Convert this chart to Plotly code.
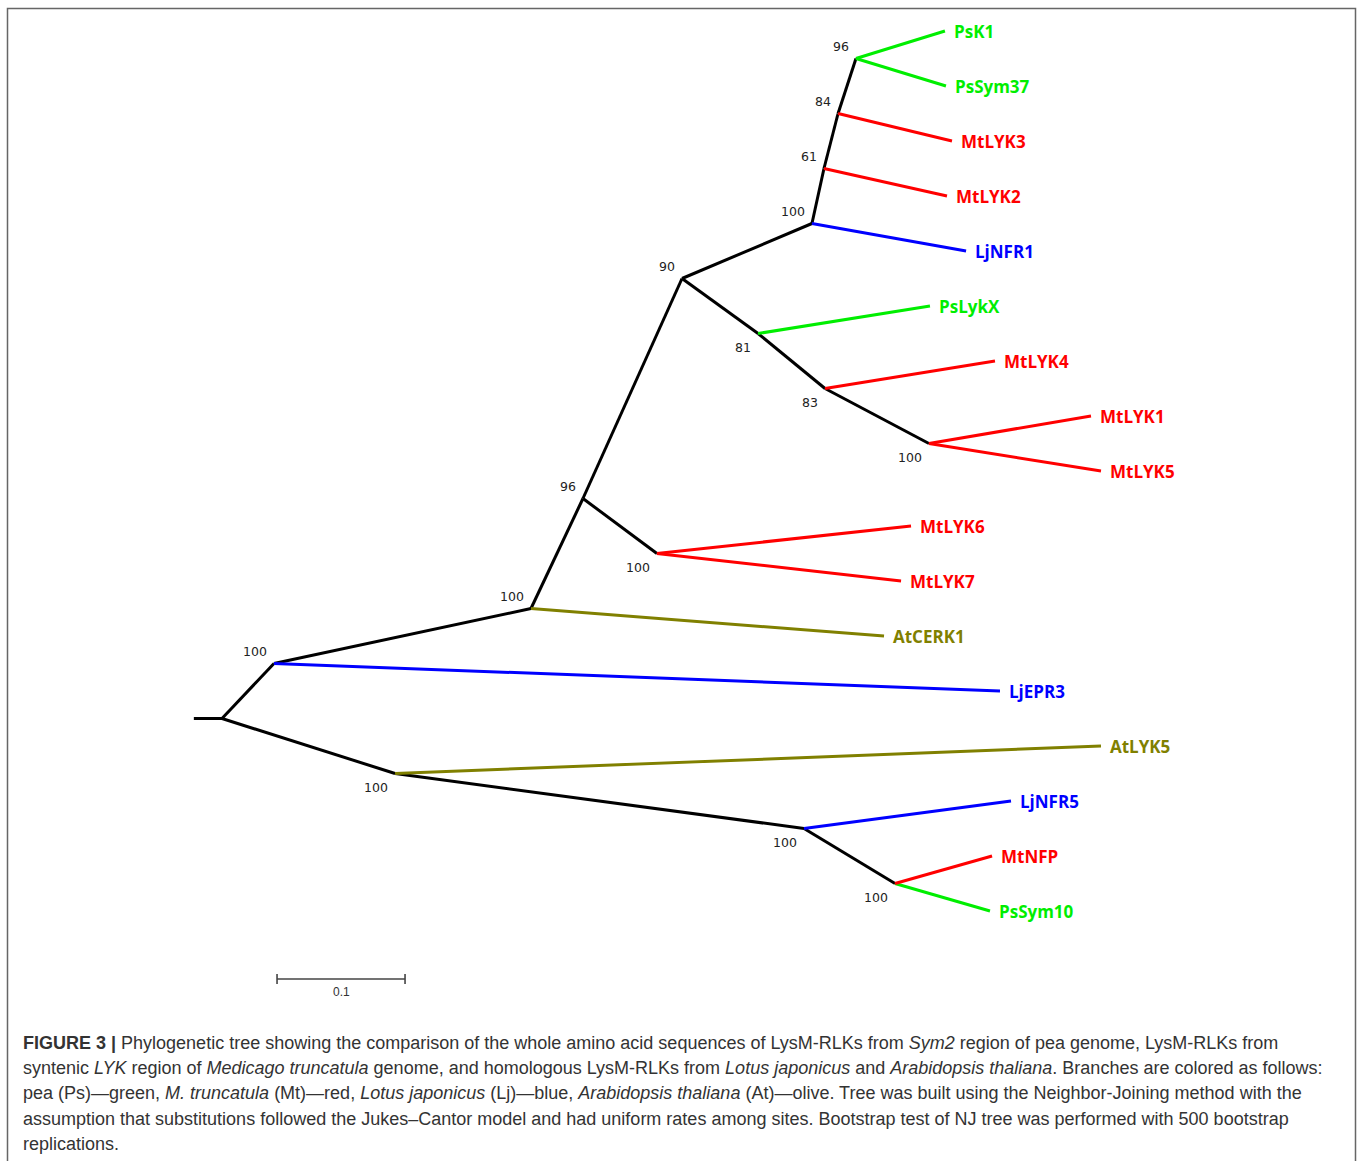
import plotly.graph_objects as go

# ---- Tree data: branch depth (substitutions/site from root) and row position ----
leaf_names = ["PsK1", "PsSym37", "MtLYK3", "MtLYK2", "LjNFR1", "PsLykX", "MtLYK4",
              "MtLYK1", "MtLYK5", "MtLYK6", "MtLYK7", "AtCERK1", "LjEPR3", "AtLYK5",
              "LjNFR5", "MtNFP", "PsSym10"]
leaf_depth = [0.5648, 0.5656, 0.5703, 0.5664, 0.5813, 0.5531, 0.6039,
              0.6789, 0.6867, 0.5383, 0.5305, 0.5172, 0.6078, 0.6867,
              0.6164, 0.6016, 0.6000]
leaf_parent = ["J", "J", "I", "H", "G", "K", "L", "M", "M", "E", "E", "C", "A", "B",
               "N", "O", "O"]

node_names = ["R", "A", "B", "C", "D", "E", "F", "G", "H", "I", "J", "K", "L", "M", "N", "O"]
node_depth = [0.0, 0.0406, 0.1352, 0.2414, 0.2820, 0.3398, 0.3594, 0.4609,
              0.4703, 0.4813, 0.4953, 0.4188, 0.4711, 0.5523, 0.4547, 0.5258]
node_row = [12.5, 11.5, 13.5, 10.5, 8.5, 9.5, 4.5, 3.5, 2.5, 1.5, 0.5, 5.5, 6.5, 7.5, 14.5, 15.5]
node_parent = [None, "R", "R", "A", "C", "D", "D", "F", "G", "H", "I", "F", "K", "L", "B", "N"]
bootstrap = [None, 100, 100, 100, 96, 100, 90, 100, 61, 84, 96, 81, 83, 100, 100, 100]
bootstrap_side = [None, "up", "down", "up", "up", "down", "up", "up", "up", "up", "up",
                  "down", "down", "down", "down", "down"]

root_stub = 0.022
scale_length = 0.1
scale_label = "0.1"

species_colors = {"Ps": "#00EE00", "Mt": "#FF0000", "Lj": "#0000FF", "At": "#808000"}

caption_lines = [
    "<b>FIGURE 3 |</b> Phylogenetic tree showing the comparison of the whole amino acid sequences of LysM-RLKs from <i>Sym2</i> region of pea genome, LysM-RLKs from",
    "syntenic <i>LYK</i> region of <i>Medicago truncatula</i> genome, and homologous LysM-RLKs from <i>Lotus japonicus</i> and <i>Arabidopsis thaliana</i>. Branches are colored as follows:",
    "pea (Ps)\u2014green, <i>M. truncatula</i> (Mt)\u2014red, <i>Lotus japonicus</i> (Lj)\u2014blue, <i>Arabidopsis thaliana</i> (At)\u2014olive. Tree was built using the Neighbor-Joining method with the",
    "assumption that substitutions followed the Jukes\u2013Cantor model and had uniform rates among sites. Bootstrap test of NJ tree was performed with 500 bootstrap",
    "replications.",
]

# ---- Figure geometry ----
W, H = 1358, 1161
PX_PER_UNIT = 1280.0      # horizontal pixels per substitution/site
PX_PER_ROW = 55.0         # vertical pixels per leaf row
ROOT_PX, ROW0_PX = 222.0, 31.0

pos = {n: (d, r) for n, d, r in zip(node_names, node_depth, node_row)}
for i, (n, d) in enumerate(zip(leaf_names, leaf_depth)):
    pos[n] = (d, float(i))

fig = go.Figure()

# internal (black) branches
bx, by = [-root_stub, 0.0, None], [pos["R"][1], pos["R"][1], None]
for n, p in zip(node_names, node_parent):
    if p is None:
        continue
    bx += [pos[p][0], pos[n][0], None]
    by += [pos[p][1], pos[n][1], None]
fig.add_trace(go.Scatter(x=bx, y=by, mode="lines", line=dict(color="black", width=3),
                         hoverinfo="skip", showlegend=False))

# terminal branches coloured by species
for code, col in species_colors.items():
    tx, ty = [], []
    for n, p in zip(leaf_names, leaf_parent):
        if n.startswith(code):
            tx += [pos[p][0], pos[n][0], None]
            ty += [pos[p][1], pos[n][1], None]
    fig.add_trace(go.Scatter(x=tx, y=ty, mode="lines", line=dict(color=col, width=3),
                             hoverinfo="skip", showlegend=False))

annotations = []
for n in leaf_names:
    annotations.append(dict(x=pos[n][0], y=pos[n][1], text=n, showarrow=False,
                            xanchor="left", yanchor="middle", xshift=7,
                            font=dict(family="Open Sans", size=17, color=species_colors[n[:2]],
                                      weight=700)))
for n, b, s in zip(node_names, bootstrap, bootstrap_side):
    if b is None:
        continue
    annotations.append(dict(x=pos[n][0], y=pos[n][1], text=str(b), showarrow=False,
                            xanchor="right", yanchor="middle", xshift=-5,
                            yshift=12 if s == "up" else -14,
                            font=dict(family="DejaVu Sans", size=12.5, color="#222222")))

# scale bar
sb_x0 = 0.043
sb_row = 17.236
tick = 0.09
fig.add_trace(go.Scatter(
    x=[sb_x0, sb_x0 + scale_length, None, sb_x0, sb_x0, None, sb_x0 + scale_length, sb_x0 + scale_length],
    y=[sb_row, sb_row, None, sb_row - tick, sb_row + tick, None, sb_row - tick, sb_row + tick],
    mode="lines", line=dict(color="#444444", width=1.6), hoverinfo="skip", showlegend=False))
annotations.append(dict(x=sb_x0 + scale_length / 2, y=sb_row, text=scale_label, showarrow=False,
                        yshift=-13, font=dict(family="Liberation Sans", size=12, color="#333333")))

# caption
for i, line in enumerate(caption_lines):
    annotations.append(dict(xref="paper", yref="paper", x=21 / W, y=1 - (1043 + 25.2 * i) / H,
                            text=line, showarrow=False, xanchor="left", yanchor="middle",
                            font=dict(family="Liberation Sans", size=18, color="#333333")))

fig.update_layout(
    width=W, height=H, margin=dict(l=0, r=0, t=0, b=0),
    paper_bgcolor="white", plot_bgcolor="white",
    xaxis=dict(range=[-ROOT_PX / PX_PER_UNIT, (W - ROOT_PX) / PX_PER_UNIT], visible=False, fixedrange=True),
    yaxis=dict(range=[(H - ROW0_PX) / PX_PER_ROW, -ROW0_PX / PX_PER_ROW], visible=False, fixedrange=True),
    annotations=annotations,
    shapes=[dict(type="rect", xref="paper", yref="paper", x0=7.5 / W, x1=1355.5 / W,
                 y0=-0.05, y1=1 - 8.5 / H, line=dict(color="#666666", width=1.5))],
)

fig.write_html("out.html")
